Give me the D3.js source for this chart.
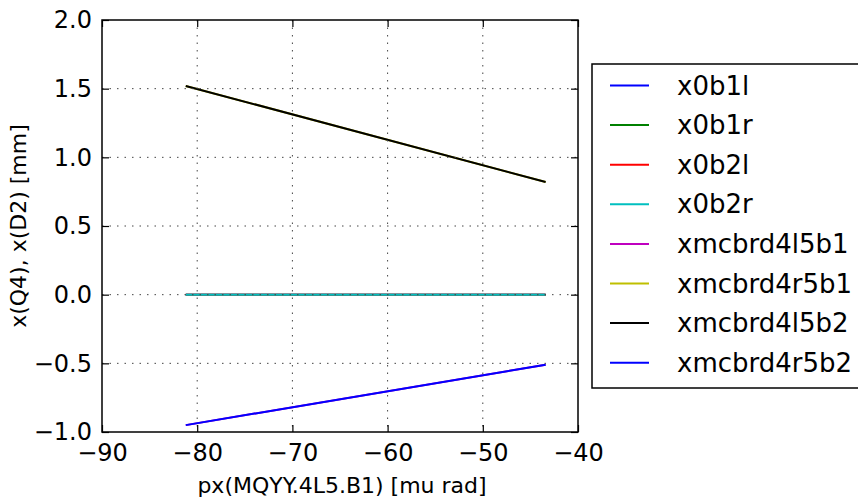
<!DOCTYPE html>
<html lang="en">
<head>
    <meta charset="UTF-8">
    <title>px(MQYY.4L5.B1) scan</title>
    <script src="https://d3js.org/d3.v7.min.js"></script>
    <style>
        body { margin: 0; background: #fff; }
        svg { font-family: "DejaVu Sans", sans-serif; }
    </style>
</head>
<body>
<svg id="chart" width="858" height="498"></svg>
<script>
    // px(MQYY.4L5.B1) [mu rad] at the two ends of the scan
    const pxValues = [-81.2, -43.4];

    const seriesNames = ["x0b1l", "x0b1r", "x0b2l", "x0b2r",
        "xmcbrd4l5b1", "xmcbrd4r5b1", "xmcbrd4l5b2", "xmcbrd4r5b2"];
    const seriesColors = ["#0000ff", "#008000", "#ff0000", "#00bfbf",
        "#bf00bf", "#bfbf00", "#000000", "#0000ff"];

    const x0b1l = [0, 0];
    const x0b1r = [0, 0];
    const x0b2l = [0, 0];
    const x0b2r = [0, 0];
    const xmcbrd4l5b1 = [-0.95, -0.51];
    const xmcbrd4r5b1 = [1.52, 0.82];
    const xmcbrd4l5b2 = [1.52, 0.82];
    const xmcbrd4r5b2 = [-0.95, -0.51];
    const seriesValues = [x0b1l, x0b1r, x0b2l, x0b2r,
        xmcbrd4l5b1, xmcbrd4r5b1, xmcbrd4l5b2, xmcbrd4r5b2];

    const xTicks = [-90, -80, -70, -60, -50, -40];
    const yTicks = [-1.0, -0.5, 0.0, 0.5, 1.0, 1.5, 2.0];

    const margin = { left: 102, top: 20, right: 578, bottom: 432 };
    const svg = d3.select("#chart");

    const x = d3.scaleLinear().domain([-90, -40]).range([margin.left, margin.right]);
    const y = d3.scaleLinear().domain([-1.0, 2.0]).range([margin.bottom, margin.top]);

    const fmtMinus = s => s.replace("-", "\u2212");

    // data lines
    const line = d3.line()
        .x((d, i) => x(pxValues[i]))
        .y(d => y(d));

    svg.append("g")
        .selectAll("path")
        .data(seriesValues)
        .join("path")
        .attr("d", d => line(d))
        .attr("fill", "none")
        .attr("stroke", (d, i) => seriesColors[i])
        .attr("stroke-width", 2);

    // grid on top (classic style)
    const grid = svg.append("g")
        .attr("stroke", "#444")
        .attr("stroke-width", 1)
        .attr("stroke-dasharray", "1.5,6");
    grid.selectAll(".gx")
        .data(xTicks.slice(1, -1))
        .join("line")
        .attr("x1", d => x(d)).attr("x2", d => x(d))
        .attr("y1", margin.top).attr("y2", margin.bottom);
    grid.selectAll(".gy")
        .data(yTicks.slice(1, -1))
        .join("line")
        .attr("y1", d => y(d)).attr("y2", d => y(d))
        .attr("x1", margin.left).attr("x2", margin.right);

    // axes with inward ticks on all four sides
    const tickLen = 7;
    svg.append("g")
        .attr("transform", `translate(0,${margin.bottom})`)
        .call(d3.axisBottom(x).tickValues(xTicks).tickSizeInner(-tickLen).tickSizeOuter(0)
            .tickPadding(12).tickFormat(d => fmtMinus(d3.format("d")(d))))
        .call(g => g.select(".domain").remove())
        .call(g => g.selectAll("text").attr("font-size", 24).attr("fill", "#000").attr("font-family", "DejaVu Sans"));
    svg.append("g")
        .attr("transform", `translate(0,${margin.top})`)
        .call(d3.axisTop(x).tickValues(xTicks).tickSizeInner(-tickLen).tickSizeOuter(0).tickFormat(""))
        .call(g => g.select(".domain").remove());
    svg.append("g")
        .attr("transform", `translate(${margin.left},0)`)
        .call(d3.axisLeft(y).tickValues(yTicks).tickSizeInner(-tickLen).tickSizeOuter(0)
            .tickPadding(10).tickFormat(d => fmtMinus(d3.format(".1f")(d))))
        .call(g => g.select(".domain").remove())
        .call(g => g.selectAll("text").attr("font-size", 24).attr("fill", "#000").attr("font-family", "DejaVu Sans"));
    svg.append("g")
        .attr("transform", `translate(${margin.right},0)`)
        .call(d3.axisRight(y).tickValues(yTicks).tickSizeInner(-tickLen).tickSizeOuter(0).tickFormat(""))
        .call(g => g.select(".domain").remove());
    svg.selectAll(".tick line").attr("stroke", "#000").attr("stroke-width", 1.2);

    svg.append("rect")
        .attr("x", margin.left).attr("y", margin.top)
        .attr("width", margin.right - margin.left)
        .attr("height", margin.bottom - margin.top)
        .attr("fill", "none").attr("stroke", "#000").attr("stroke-width", 1.5);

    // axis titles
    svg.append("text")
        .attr("x", 342).attr("y", 493)
        .attr("text-anchor", "middle").attr("font-size", 22)
        .text("px(MQYY.4L5.B1) [mu rad]");
    svg.append("text")
        .attr("transform", `translate(26,${(margin.top + margin.bottom) / 2}) rotate(-90)`)
        .attr("text-anchor", "middle").attr("font-size", 22)
        .text("x(Q4), x(D2) [mm]");

    // legend
    const legend = svg.append("g");
    legend.append("rect")
        .attr("x", 592).attr("y", 64).attr("width", 280).attr("height", 324)
        .attr("fill", "#fff").attr("stroke", "#000").attr("stroke-width", 1.5);
    const rows = legend.selectAll(".row")
        .data(seriesNames)
        .join("g")
        .attr("transform", (d, i) => `translate(0,${85.5 + i * 39.6})`);
    rows.append("line")
        .attr("x1", 610).attr("x2", 649)
        .attr("stroke", (d, i) => seriesColors[i]).attr("stroke-width", 2);
    rows.append("text")
        .attr("x", 677).attr("dy", "0.35em")
        .attr("font-size", 26)
        .text(d => d);
</script>
</body>
</html>
